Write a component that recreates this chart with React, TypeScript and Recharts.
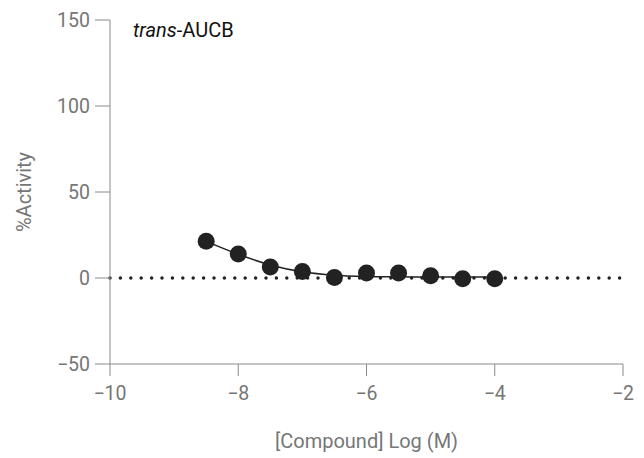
import React from "react";
import {
  ComposedChart,
  Line,
  Scatter,
  XAxis,
  YAxis,
  ReferenceLine,
} from "recharts";

// measured points
const logConc = [-8.5, -8, -7.5, -7, -6.5, -6, -5.5, -5, -4.5, -4];
const activity = [21.3, 14, 6.4, 3.8, 0.3, 2.9, 2.9, 1.3, -0.4, -0.4];

// fitted curve
const fitConc = [-8.5, -8, -7.5, -7, -6.5, -6, -5.5, -5, -4.5, -4];
const fitValues = [21.3, 13.8, 7.6, 3.6, 1.6, 0.9, 0.7, 0.6, 0.6, 0.6];

const xTicks = [-10, -8, -6, -4, -2];
const yTicks = [-50, 0, 50, 100, 150];

const points = logConc.map((x, i) => ({ x, y: activity[i] }));
const fit = fitConc.map((x, i) => ({ x, fit: fitValues[i] }));

const axisColor = "#8a8a8a";
const textColor = "#767676";
const ink = "#222222";

const minus = (v: number) => String(v).replace("-", "\u2212");

const Dot = (props: any) => (
  <circle cx={props.cx} cy={props.cy} r={8.5} fill={ink} />
);

const YLabel = (props: any) => {
  const vb = props.viewBox || {};
  const cy = (vb.y ?? 20) + (vb.height ?? 344) / 2;
  return (
    <text
      x={24}
      y={cy}
      transform={`rotate(-90 24 ${cy})`}
      textAnchor="middle"
      dominantBaseline="central"
      fill={textColor}
      fontSize={20}
    >
      %Activity
    </text>
  );
};

export default function App() {
  return (
    <div
      style={{
        position: "absolute",
        left: 0,
        top: 0,
        width: 644,
        height: 458,
        background: "#fff",
        fontFamily: "Roboto, sans-serif",
      }}
    >
      <ComposedChart
        width={644}
        height={458}
        data={fit}
        margin={{ top: 20, right: 21, bottom: 0, left: 0 }}
      >
        <XAxis
          type="number"
          dataKey="x"
          domain={[-10, -2]}
          ticks={xTicks}
          allowDataOverflow
          height={94}
          tickSize={12}
          tickMargin={10}
          tickFormatter={minus}
          stroke={axisColor}
          tick={{ fill: textColor, fontSize: 19.5 }}
          label={{
            value: "[Compound] Log (M)",
            position: "insideBottom",
            offset: 10,
            fill: textColor,
            fontSize: 20,
          }}
        />
        <YAxis
          type="number"
          domain={[-50, 150]}
          ticks={yTicks}
          width={110}
          tickSize={15}
          tickMargin={5}
          tickFormatter={minus}
          stroke={axisColor}
          tick={{ fill: textColor, fontSize: 19.5 }}
          label={{ content: YLabel }}
        />
        <ReferenceLine
          y={0}
          stroke={ink}
          strokeWidth={3.5}
          strokeDasharray="0 10.4"
          strokeLinecap="round"
        />
        <Line
          type="monotone"
          dataKey="fit"
          stroke={ink}
          strokeWidth={1.5}
          dot={false}
          isAnimationActive={false}
        />
        <Scatter
          data={points}
          dataKey="y"
          shape={Dot}
          isAnimationActive={false}
        />
      </ComposedChart>
      <div
        style={{
          position: "absolute",
          left: 133,
          top: 20,
          fontSize: 20,
          color: "#111",
          lineHeight: "20px",
        }}
      >
        <i>trans</i>-AUCB
      </div>
    </div>
  );
}
